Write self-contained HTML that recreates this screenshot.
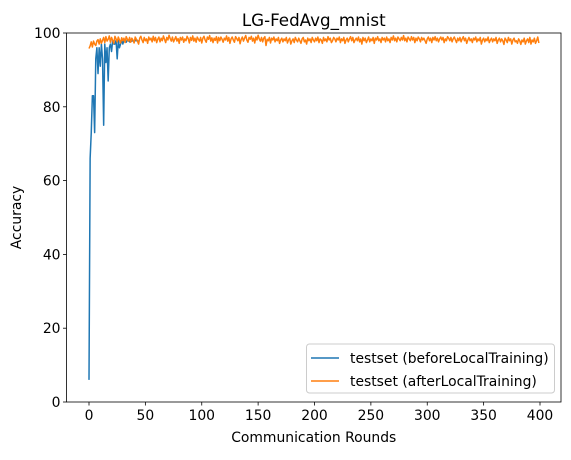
<!DOCTYPE html>
<html><head><meta charset="utf-8"><style>
body{margin:0;background:#fff;}
svg{font-family:"DejaVu Sans","Liberation Sans",sans-serif;}
</style></head><body>
<svg id="c" width="571" height="455" xmlns="http://www.w3.org/2000/svg"></svg>
<script>
const xTicks=[0,50,100,150,200,250,300,350,400];
const yTicks=[0,20,40,60,80,100];
const blueVals=[6,66,73,83,83,73,93,96,89,96,91,97,93,75,97,92,96,87,96,97,95,98,97,97,98,93,98,96,97,98,97,98,98,97.5,98,98,97.6,98.2,97.8,98,97.5,98.1,97.9,98,97.4];
const orangeVals=[
95.8,96.5,97.6,96.2,97.8,97.0,96.6,97.8,98.2,97.0,98.4,97.2,98.0,98.8,97.4,99.0,97.8,98.3,99.2,97.5,
98.8,98.0,97.2,99.1,98.4,97.6,98.9,98.1,97.3,98.7,97.9,98.6,97.4,99.0,98.3,97.8,98.8,97.5,98.6,98.1,
97.3,98.9,98.3,97.8,97.0,98.6,99.1,98.1,97.4,98.8,97.9,98.4,97.2,98.9,98.1,98.6,97.6,99.1,97.9,98.8,
97.4,98.3,98.9,97.6,98.6,97.9,99.2,98.3,97.4,98.8,98.1,99.4,98.5,97.8,98.9,97.6,98.3,99.0,97.8,98.5,
97.2,98.8,98.1,98.9,97.5,98.4,97.9,99.1,98.5,97.3,98.8,98.0,99.2,97.8,98.6,97.5,98.9,98.3,97.8,98.8,
97.3,98.6,99.1,98.1,97.5,98.9,98.3,99.3,97.8,98.7,97.4,98.6,98.0,99.0,97.3,98.8,97.9,98.9,98.3,97.5,
98.6,98.1,99.2,97.8,98.8,97.2,98.4,98.9,98.1,97.5,99.0,98.5,97.9,98.8,97.1,98.3,98.9,97.8,98.6,99.3,
98.1,97.5,98.8,98.3,99.1,97.8,98.6,97.3,98.9,98.1,99.4,98.4,97.8,98.8,97.6,98.6,99.0,96.6,98.3,97.9,
98.8,97.3,98.6,98.1,98.9,97.6,98.4,97.9,98.8,97.2,98.1,98.6,97.6,98.4,97.9,98.8,97.3,98.1,98.6,97.0,
97.9,98.4,97.4,98.8,98.1,97.6,98.6,97.9,97.2,98.4,98.8,97.6,98.1,97.0,98.6,97.9,98.4,97.4,98.8,98.1,
97.6,98.6,97.9,98.9,97.4,98.4,98.1,97.2,98.8,97.9,98.4,97.6,99.0,98.1,98.6,97.4,97.9,98.8,98.4,97.6,
98.6,98.1,98.9,97.4,98.4,97.9,98.8,97.2,98.1,98.6,97.6,98.4,99.0,97.9,98.8,97.4,98.1,98.6,97.9,98.9,
97.6,98.4,97.0,98.8,97.9,98.6,97.4,98.1,98.9,97.6,98.4,97.9,98.8,97.2,98.6,98.1,99.0,97.9,98.4,97.4,
98.8,98.1,98.6,97.6,98.9,97.9,98.4,97.4,98.8,98.1,99.2,97.9,98.6,97.6,98.9,98.4,97.9,98.8,98.1,99.3,
97.9,98.6,97.6,98.9,98.4,97.9,99.0,98.1,98.8,97.4,98.6,97.9,98.9,98.4,97.6,98.8,98.1,98.6,97.9,97.2,
98.4,98.9,97.9,98.6,97.4,98.8,98.1,99.0,97.9,98.6,97.6,98.4,98.9,98.1,98.8,97.4,98.4,97.9,99.0,98.6,
97.9,98.8,97.6,98.4,98.9,98.1,97.4,98.6,97.9,98.8,97.6,98.4,99.0,97.9,98.6,97.2,98.1,98.8,97.9,98.4,
97.4,98.6,98.1,98.9,97.6,98.4,97.9,98.8,97.0,98.1,98.6,97.6,98.4,97.9,98.9,97.4,98.1,98.6,97.6,98.4,
97.9,98.8,97.2,98.1,98.6,97.6,98.4,97.9,96.9,98.6,98.1,97.4,98.8,97.9,98.4,97.0,98.1,98.6,97.6,97.9,
97.2,98.4,97.9,96.9,98.1,97.6,98.6,97.0,97.9,98.4,97.4,98.8,97.0,98.1,97.6,98.6,97.2,97.9,98.9,97.3];
const NS="http://www.w3.org/2000/svg";
const svg=document.getElementById('c');
const L=66.5,R=561,T=33,B=402;
const x=v=>89+v*451/400;
const y=v=>B-v*(B-T)/100;
function mk(t,a,p){const e=document.createElementNS(NS,t);for(const k in a)e.setAttribute(k,a[k]);(p||svg).appendChild(e);return e;}
function line(vals,color,name){
  const d=vals.map((v,i)=>(i?'L':'M')+x(i).toFixed(2)+','+y(v).toFixed(2)).join('');
  const p=mk('path',{d:d,fill:'none',stroke:color,'stroke-width':1.5,'stroke-linejoin':'round'});
  
  
}
line(blueVals,'#1f77b4','series-before-local-training');
line(orangeVals,'#ff7f0e','series-after-local-training');
const fr=mk('rect',{x:L,y:T,width:R-L,height:B-T,fill:'none',stroke:'#000','stroke-width':0.8});


xTicks.forEach(t=>{
  mk('line',{x1:x(t),x2:x(t),y1:B,y2:B+3.5,stroke:'#000','stroke-width':0.8});
  const tx=mk('text',{x:x(t),y:B+18,'font-size':13.9,'text-anchor':'middle',fill:'#000'});tx.textContent=t;
  
  
});
yTicks.forEach(t=>{
  mk('line',{x1:L,x2:L-3.5,y1:y(t),y2:y(t),stroke:'#000','stroke-width':0.8});
  const tx=mk('text',{x:L-6,y:y(t)+5,'font-size':13.9,'text-anchor':'end',fill:'#000'});tx.textContent=t;
  
  
});
let tt=mk('text',{x:(L+R)/2,y:26,'font-size':16.7,'text-anchor':'middle'});tt.textContent='LG-FedAvg_mnist';


tt=mk('text',{x:(L+R)/2,y:442,'font-size':13.9,'text-anchor':'middle'});tt.textContent='Communication Rounds';


tt=mk('text',{x:21,y:(T+B)/2,'font-size':13.9,'text-anchor':'middle',transform:'rotate(-90 21 '+(T+B)/2+')'});tt.textContent='Accuracy';


const lg=mk('g',{});


mk('rect',{x:306.5,y:344,width:248,height:49,rx:3,fill:'#fff','fill-opacity':0.8,stroke:'#ccc'},lg);
[['#1f77b4','testset (beforeLocalTraining)',358],['#ff7f0e','testset (afterLocalTraining)',381]].forEach(([c,s,yy])=>{
  mk('line',{x1:311,x2:339,y1:yy,y2:yy,stroke:c,'stroke-width':1.5},lg);
  const e=mk('text',{x:350,y:yy+5,'font-size':13.9},lg);e.textContent=s;
  
  
});
</script>
</body></html>
